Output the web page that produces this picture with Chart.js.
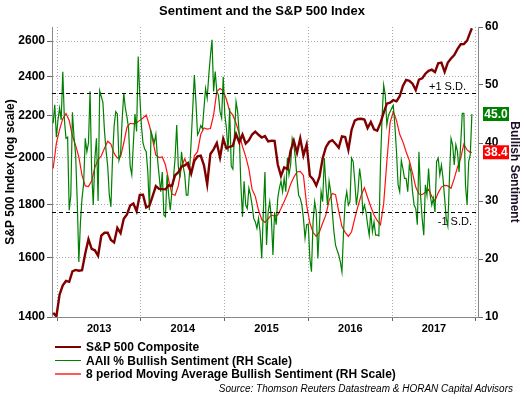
<!DOCTYPE html>
<html>
<head>
<meta charset="utf-8">
<script src="https://cdn.jsdelivr.net/npm/chart.js@4.4.0/dist/chart.umd.min.js"></script>
<style>
html, body { margin: 0; padding: 0; background: #fff; }
#wrap { position: relative; width: 524px; height: 399px; font-family: "Liberation Sans", Arial, sans-serif; }
.row { position: absolute; left: 55px; height: 14px; line-height: 14px; font-size: 12px; font-weight: bold; color: #000; white-space: nowrap; }
.sw { display: inline-block; width: 26px; vertical-align: middle; margin-right: 5px; position: relative; top: -1px; }
#source { position: absolute; right: 11px; top: 383px; font-size: 10px; font-style: italic; color: #000; white-space: nowrap; }
</style>
</head>
<body>
<div id="wrap">
  <canvas id="sentChart" width="524" height="399"></canvas>
  <div class="row" style="top:340px"><span class="sw" style="border-top:2px solid #800000"></span>S&amp;P 500 Composite</div>
  <div class="row" style="top:354px"><span class="sw" style="border-top:1.5px solid #008000"></span>AAII % Bullish Sentiment (RH Scale)</div>
  <div class="row" style="top:367px"><span class="sw" style="border-top:2px solid #ff5a5a"></span>8 period Moving Average Bullish Sentiment (RH Scale)</div>
  <div id="source">Source: Thomson Reuters Datastream &amp; HORAN Capital Advisors</div>
</div>
<script>
// weekly data, first week = 14 Dec 2012
// S&P 500 composite, every 2nd week (last value = final week)
const spx = [
  1413, 1402, 1472, 1503, 1518, 1515, 1551, 1556, 1553, 1555, 1614, 1667, 1631,
  1626, 1606, 1680, 1691, 1691, 1664, 1655, 1710, 1690, 1745, 1762, 1798, 1806,
  1775, 1841, 1842, 1790, 1797, 1836, 1878, 1866, 1865, 1864, 1881, 1878, 1924,
  1937, 1961, 1967, 1978, 1931, 1988, 2007, 2010, 1967, 1886, 2018, 2039, 2068,
  2002, 2088, 2044, 2051, 2055, 2110, 2071, 2108, 2066, 2081, 2108, 2122, 2107,
  2094, 2101, 2076, 2079, 2078, 1971, 1921, 1958, 1951, 2033, 2079, 2023, 2090,
  2012, 2061, 1922, 1907, 1880, 1918, 1999, 2049, 2073, 2081, 2065, 2047, 2099,
  2096, 2037, 2130, 2175, 2183, 2184, 2180, 2139, 2168, 2133, 2126, 2164, 2213,
  2259, 2264, 2277, 2271, 2297, 2351, 2383, 2378, 2363, 2329, 2384, 2391, 2416,
  2432, 2438, 2425, 2473, 2477, 2426, 2477, 2500, 2519, 2553, 2581, 2582, 2602,
  2652, 2675
];

// AAII % bullish, every week
const aaii = [
  43.4, 46.6, 41, 44, 46, 44, 52.3, 44, 40.8, 41, 28.4, 31, 45.3,
  41, 38, 30, 19.5, 26.4, 30.5, 33, 40.8, 38.5, 40, 48.9, 35, 29.3,
  37.4, 40.8, 30, 49, 48, 47, 42, 38.6, 36, 31, 29, 37.4, 43,
  45.4, 45, 37, 38, 44, 48.6, 46, 44.5, 42.5, 36, 34.5, 40, 45,
  42, 54.9, 48, 43, 40, 39, 38.5, 35, 28.4, 42, 41, 40, 41.5,
  37.4, 34.5, 31.6, 35, 27.6, 27.3, 34.5, 31, 28.4, 31.6, 34, 37.4, 43.1,
  36, 34, 38.5, 36, 34.5, 31, 31, 35, 40.2, 46, 51.7, 47, 41.4,
  42, 43, 42.5, 46, 49.4, 47.7, 51.7, 55, 57.8, 48.9, 52.3, 48.9, 48.3,
  45.4, 44.3, 51.4, 44.9, 42.5, 38.5, 46, 36, 35.5, 41.4, 47.1, 45.4, 41.4,
  32.8, 27.3, 33.4, 29.3, 28.7, 32.2, 31, 29.3, 27, 26.4, 25.3, 27, 24.7,
  20.1, 28.1, 35, 22.4, 28.1, 29.9, 27, 20.7, 28.1, 25.9, 30.5, 32.2, 33.4,
  31.6, 33.9, 31.6, 37.4, 34.5, 36.2, 40.8, 39.7, 37.4, 33.9, 31, 30.5, 29.3,
  27, 23.6, 25.9, 26, 20.1, 17.8, 26.4, 29.9, 28.1, 20.1, 26, 31.6, 29.9,
  37.4, 32.8, 29.3, 33.4, 31.6, 28.1, 24.7, 22.4, 21.5, 20.7, 19.5, 17.8, 24.7,
  29.9, 31.6, 29.3, 29.9, 37.4, 36.8, 33.4, 29.3, 31.6, 35.6, 33.4, 28.1, 29.3,
  28.1, 25.9, 24.1, 28.1, 24.7, 26.4, 24.1, 24.1, 24, 36.2, 44.3, 50, 48.3,
  43.1, 44.8, 45.4, 46, 46.5, 43, 38.5, 32.8, 31.6, 37, 35.6, 33.9, 33.9,
  31.6, 36.2, 35, 31.6, 29.3, 28.7, 25.9, 38.5, 31, 27, 24.1, 32.8, 31,
  35.6, 31, 29.3, 30.5, 28.1, 36.8, 37.4, 34.5, 36.2, 33.9, 30.5, 27, 25.7,
  33.9, 40.8, 39.7, 36.2, 39.7, 38.5, 35, 39.7, 45.1, 45.1, 32.8, 29.3, 36.8,
  38, 45
];

// 8 period moving average, every 2nd week (last value = final week)
const aaiiMa = [
  35.6, 40.0, 42.3, 44.2, 45.1, 43.9, 41.2, 39.6, 37.6, 34.4, 32.6, 32.5, 33.5,
  35.8, 37.1, 37.8, 39.1, 40.3, 39.8, 38.2, 37.4, 37.6, 40.0, 42.7, 43.4, 43.3,
  43.5, 43.9, 44.3, 44.8, 43.0, 40.5, 37.9, 37.5, 37.6, 36.2, 33.6, 31.2, 31.0,
  32.6, 35.9, 37.3, 35.8, 34.8, 37.8, 38.5, 41.5, 42.6, 42.4, 42.5, 44.8, 48.9,
  49.4, 49.0, 47.5, 45.5, 44.8, 43.4, 41.6, 39.4, 37.7, 35.5, 32.0, 30.8, 28.4,
  26.8, 26.3, 26.9, 27.6, 27.4, 27.6, 28.7, 29.9, 31.2, 32.9, 34.1, 35.0, 35.1,
  34.4, 29.3, 26.2, 24.6, 23.9, 24.7, 26.2, 27.6, 30.1, 31.3, 31.1, 28.2, 25.6,
  24.6, 23.9, 24.7, 27.0, 29.1, 31.0, 32.3, 30.6, 29.0, 27.6, 26.6, 25.9, 29.5,
  36.8, 43.5, 45.4, 43.9, 41.5, 40.2, 38.5, 37.0, 34.8, 32.4, 31.2, 31.1, 31.5,
  32.0, 30.8, 30.0, 31.4, 32.4, 32.7, 32.6, 32.2, 33.9, 35.8, 37.4, 39.8, 38.8,
  38.4, 38.4
];

const spxTicks = [1400, 1600, 1800, 2000, 2200, 2400, 2600];
const yearTicks = [2013, 2013.5, 2014, 2014.5, 2015, 2015.5, 2016, 2016.5, 2017, 2017.5, 2018];
const sdLevels = [48.6, 28.1]; // +1 / -1 standard deviation of bullish %

const START = 2012.951;
const WEEK = 7 / 365.25;
const lastWeek = aaii.length - 1;

function toPoints(vals, step) {
    return vals.map((v, k) => ({ x: START + Math.min(k * step, lastWeek) * WEEK, y: v }));
}

const FONT = '"Liberation Sans", Arial, sans-serif';
const isYear = v => Math.abs(v - Math.round(v)) < 0.001;

const extras = {
    id: 'extras',
    afterDatasetsDraw(chart) {
        const { ctx, chartArea: a } = chart;
        const y1 = chart.scales.y1;
        ctx.save();
        ctx.strokeStyle = '#000';
        ctx.lineWidth = 1.2;
        ctx.setLineDash([4, 3]);
        const ys = sdLevels.map(v => Math.round(y1.getPixelForValue(v)) + 0.5);
        ys.forEach(y => {
            ctx.beginPath();
            ctx.moveTo(a.left, y);
            ctx.lineTo(a.right, y);
            ctx.stroke();
        });
        ctx.setLineDash([]);
        ctx.fillStyle = '#000';
        ctx.font = '11px ' + FONT;
        ctx.textAlign = 'right';
        ctx.textBaseline = 'bottom';
        ctx.fillText('+1 S.D.', a.right - 12, ys[0] - 1);
        ctx.textBaseline = 'top';
        ctx.fillText('-1 S.D.', a.right - 6, ys[1] + 4);
        ctx.restore();
    },
    afterDraw(chart) {
        const { ctx } = chart;
        const y1 = chart.scales.y1;
        const boxes = [
            { v: aaii[aaii.length - 1], color: '#008000' },
            { v: aaiiMa[aaiiMa.length - 1], color: '#ff0000' }
        ];
        ctx.save();
        ctx.font = 'bold 12px ' + FONT;
        ctx.textAlign = 'center';
        ctx.textBaseline = 'middle';
        boxes.forEach(b => {
            const y = y1.getPixelForValue(b.v);
            ctx.fillStyle = b.color;
            ctx.fillRect(483, y - 7, 26, 14);
            ctx.fillStyle = '#fff';
            ctx.fillText(b.v.toFixed(1), 496, y + 0.5);
        });
        ctx.restore();
    }
};

new Chart(document.getElementById('sentChart'), {
    type: 'line',
    data: {
        datasets: [{
            label: 'S&P 500 Composite',
            data: toPoints(spx, 2),
            yAxisID: 'y',
            borderColor: '#800000',
            borderWidth: 2.4
        }, {
            label: 'AAII % Bullish Sentiment (RH Scale)',
            data: toPoints(aaii, 1),
            yAxisID: 'y1',
            borderColor: '#008000',
            borderWidth: 1.2
        }, {
            label: '8 period Moving Average Bullish Sentiment (RH Scale)',
            data: toPoints(aaiiMa, 2),
            yAxisID: 'y1',
            borderColor: '#ff1010',
            borderWidth: 1.2
        }]
    },
    options: {
        responsive: false,
        animation: false,
        devicePixelRatio: 1,
        elements: { point: { radius: 0 }, line: { tension: 0 } },
        layout: { padding: { top: 0, left: 0, right: 0, bottom: 62 } },
        plugins: {
            legend: { display: false },
            tooltip: { enabled: false },
            title: {
                display: true,
                text: 'Sentiment and the S&P 500 Index',
                color: '#000',
                font: { family: FONT, size: 13, weight: 'bold' },
                padding: { top: 4, bottom: 7.4 }
            }
        },
        scales: {
            x: {
                type: 'linear',
                min: 2012.937,
                max: 2018.026,
                afterBuildTicks: s => { s.ticks = yearTicks.map(v => ({ value: v })); },
                afterFit: s => { s.height = 20; },
                ticks: {
                    autoSkip: false,
                    maxRotation: 0,
                    minRotation: 0,
                    padding: 1,
                    color: '#000',
                    font: { family: FONT, size: 11, weight: 'bold' },
                    callback: v => isYear(v) ? '' : String(Math.floor(v))
                },
                grid: {
                    color: c => c.tick && isYear(c.tick.value) ? '#aaaaaa' : 'rgba(0,0,0,0)',
                    tickColor: c => c.tick && isYear(c.tick.value) ? '#666' : 'rgba(0,0,0,0)',
                    tickLength: 4,
                    tickBorderDash: []
                },
                border: { color: '#888', dash: [1, 2] }
            },
            y: {
                type: 'logarithmic',
                position: 'left',
                min: 1400,
                max: 2683,
                afterBuildTicks: s => { s.ticks = spxTicks.map(v => ({ value: v })); },
                afterFit: s => { s.width = 52; },
                ticks: {
                    padding: 2,
                    color: '#000',
                    font: { family: FONT, size: 12, weight: 'bold' },
                    callback: v => String(v)
                },
                grid: {
                    color: '#aaaaaa',
                    tickColor: '#666',
                    tickLength: 5,
                    tickBorderDash: []
                },
                border: { color: '#888', dash: [1, 2] },
                title: {
                    display: true,
                    text: 'S&P 500 Index (log scale)',
                    color: '#000',
                    font: { family: FONT, size: 12, weight: 'bold' },
                    padding: { top: 3, bottom: 0 }
                }
            },
            y1: {
                type: 'linear',
                position: 'right',
                min: 10,
                max: 60,
                afterFit: s => { s.width = 46; },
                ticks: {
                    stepSize: 10,
                    padding: 2,
                    color: '#000',
                    font: { family: FONT, size: 12, weight: 'bold' }
                },
                grid: {
                    drawOnChartArea: false,
                    tickColor: '#666',
                    tickLength: 5,
                    tickBorderDash: []
                },
                border: { color: '#888' },
                title: {
                    display: true,
                    text: 'Bullish Sentiment',
                    color: '#1e0f2a',
                    font: { family: FONT, size: 12, weight: 'bold' },
                    padding: { top: 2, bottom: 0 }
                }
            }
        }
    },
    plugins: [extras]
});
</script>
</body>
</html>
